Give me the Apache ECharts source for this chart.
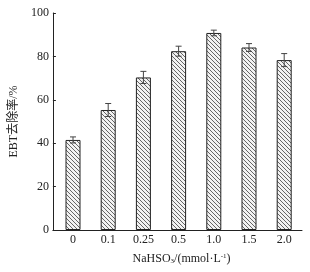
<!DOCTYPE html>
<html>
<head>
<meta charset="utf-8">
<script src="https://cdn.jsdelivr.net/npm/echarts@6/dist/echarts.min.js"></script>
<style>
  html, body { margin: 0; padding: 0; background: #fff; }
  #chart { width: 310px; height: 272px; }
</style>
</head>
<body>
<div id="chart"></div>
<script>
const categories = ["0", "0.1", "0.25", "0.5", "1.0", "1.5", "2.0"];
const removal = [41.5, 55.3, 70.3, 82.4, 90.8, 84.1, 78.3];
const errors = [1.4, 3.0, 2.8, 2.3, 1.3, 1.8, 3.0];

const font = "'Liberation Serif', 'Noto Sans CJK SC', serif";

// hatch fill for the bars
const hatch = document.createElement("canvas");
hatch.width = 4;
hatch.height = 4;
const hc = hatch.getContext("2d");
hc.fillStyle = "#f2f2f2";
hc.fillRect(0, 0, 4, 4);
hc.strokeStyle = "#666";
hc.lineWidth = 1;
hc.beginPath();
hc.moveTo(-1, -1); hc.lineTo(5, 5);
hc.moveTo(-1, 3); hc.lineTo(1, 5);
hc.moveTo(3, -1); hc.lineTo(5, 1);
hc.stroke();

const errData = removal.map((v, i) => [i, v - errors[i], v + errors[i]]);

const chart = echarts.init(document.getElementById("chart"));
chart.setOption({
  animation: false,
  textStyle: { fontFamily: font },
  grid: [
    { left: 55.4, right: 8.2, top: 13, bottom: 42 },
    { left: 50, right: 8, top: 13, bottom: 42 }
  ],
  xAxis: [
    {
      type: "category",
      gridIndex: 0,
      data: categories,
      axisLine: { show: false },
      axisTick: { show: false },
      axisLabel: { color: "#222", fontSize: 12, margin: 4, fontFamily: font },
      name: "NaHSO{sub|3}/(mmol·L{sup|-1})",
      nameLocation: "middle",
      nameGap: 23,
      nameTextStyle: {
        color: "#222", fontSize: 12, fontFamily: font, padding: [0, 0, 0, 6],
        rich: {
          sub: { fontSize: 7, verticalAlign: "bottom", padding: [5, 0, 0, 0], fontFamily: font },
          sup: { fontSize: 7, verticalAlign: "top", padding: [0, 0, 5, 0], fontFamily: font }
        }
      }
    },
    {
      type: "value",
      gridIndex: 1,
      min: 0,
      max: 1,
      axisLine: { show: true, lineStyle: { color: "#222", width: 1 } },
      axisTick: { show: false },
      axisLabel: { show: false },
      splitLine: { show: false }
    }
  ],
  yAxis: [
    {
      type: "value",
      gridIndex: 0,
      min: 0,
      max: 100,
      show: false
    },
    {
      type: "value",
      gridIndex: 1,
      min: 0,
      max: 100,
      interval: 20,
      axisLine: { show: true, lineStyle: { color: "#222", width: 1 } },
      axisTick: { show: true, inside: true, length: 3, lineStyle: { color: "#222" } },
      axisLabel: { color: "#222", fontSize: 12, margin: 4, fontFamily: font },
      splitLine: { show: false },
      name: "EBT去除率/%",
      nameLocation: "middle",
      nameGap: 29,
      nameTextStyle: { color: "#222", fontSize: 12, fontFamily: font }
    }
  ],
  series: [
    {
      type: "bar",
      xAxisIndex: 0,
      yAxisIndex: 0,
      data: removal,
      barWidth: 15,
      itemStyle: {
        color: { image: hatch, repeat: "repeat" },
        borderColor: "#222",
        borderWidth: 1
      }
    },
    {
      type: "custom",
      xAxisIndex: 0,
      yAxisIndex: 0,
      data: errData,
      z: 5,
      renderItem: function (params, api) {
        const x = api.value(0);
        const lo = api.coord([x, api.value(1)]);
        const hi = api.coord([x, api.value(2)]);
        const hw = 3;
        const style = { stroke: "#444", lineWidth: 1 };
        return {
          type: "group",
          children: [
            { type: "line", shape: { x1: lo[0], y1: lo[1], x2: hi[0], y2: hi[1] }, style: style },
            { type: "line", shape: { x1: hi[0] - hw, y1: hi[1], x2: hi[0] + hw, y2: hi[1] }, style: style },
            { type: "line", shape: { x1: lo[0] - hw, y1: lo[1], x2: lo[0] + hw, y2: lo[1] }, style: style }
          ]
        };
      }
    }
  ]
});
</script>
</body>
</html>
